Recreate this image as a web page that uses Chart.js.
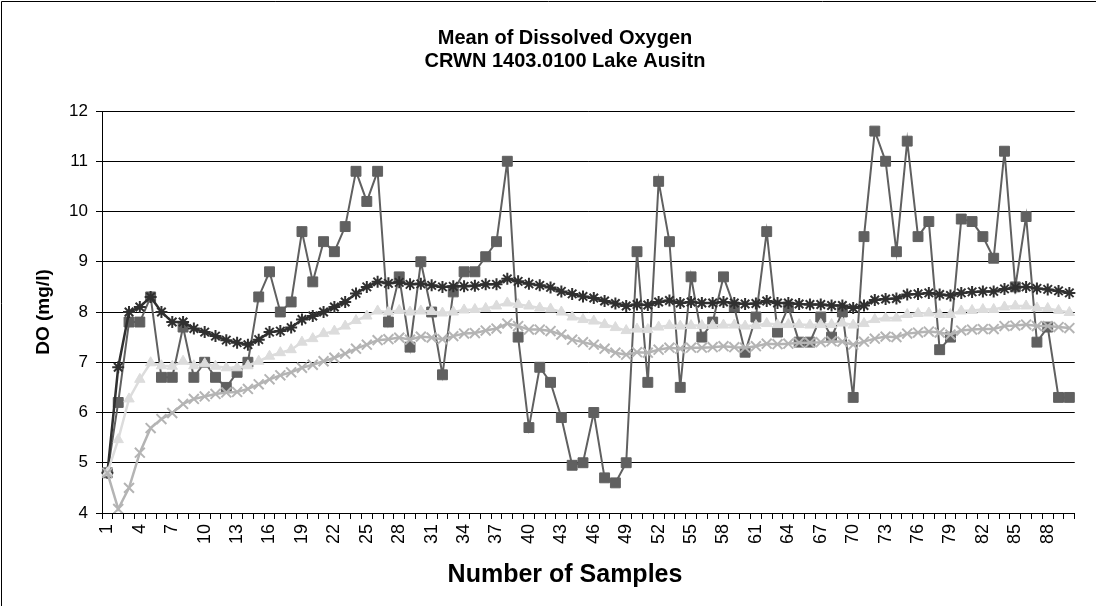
<!DOCTYPE html>
<html>
<head>
<meta charset="utf-8">
<title>Mean of Dissolved Oxygen</title>
<script src="https://cdn.jsdelivr.net/npm/chart.js@4.4.1/dist/chart.umd.min.js"></script>
<style>
  html, body { margin: 0; padding: 0; background: #fff; }
  #wrap { width: 1096px; height: 606px; }
</style>
</head>
<body>
<div id="wrap"><canvas id="myChart" width="1096" height="606"></canvas></div>
<script>
// sample numbers on the x axis
const samples = [
  1, 2, 3, 4, 5, 6, 7, 8, 9, 10, 11, 12, 13, 14, 15, 16, 17, 18, 19, 20,
  21, 22, 23, 24, 25, 26, 27, 28, 29, 30, 31, 32, 33, 34, 35, 36, 37, 38, 39, 40,
  41, 42, 43, 44, 45, 46, 47, 48, 49, 50, 51, 52, 53, 54, 55, 56, 57, 58, 59, 60,
  61, 62, 63, 64, 65, 66, 67, 68, 69, 70, 71, 72, 73, 74, 75, 76, 77, 78, 79, 80,
  81, 82, 83, 84, 85, 86, 87, 88, 89, 90
];

// measured DO (squares)
const doValues = [
  4.8, 6.2, 7.8, 7.8, 8.3, 6.7, 6.7, 7.7, 6.7, 7.0,
  6.7, 6.5, 6.8, 7.0, 8.3, 8.8, 8.0, 8.2, 9.6, 8.6,
  9.4, 9.2, 9.7, 10.8, 10.2, 10.8, 7.8, 8.7, 7.3, 9.0,
  8.0, 6.75, 8.4, 8.8, 8.8, 9.1, 9.4, 11.0, 7.5, 5.7,
  6.9, 6.6, 5.9, 4.95, 5.0, 6.0, 4.7, 4.6, 5.0, 9.2,
  6.6, 10.6, 9.4, 6.5, 8.7, 7.5, 7.8, 8.7, 8.1, 7.2,
  7.9, 9.6, 7.6, 8.1, 7.4, 7.4, 7.9, 7.5, 8.0, 6.3,
  9.5, 11.6, 11.0, 9.2, 11.4, 9.5, 9.8, 7.25, 7.5, 9.85,
  9.8, 9.5, 9.07, 11.2, 8.5, 9.9, 7.4, 7.7, 6.3, 6.3
];

// upper band (stars)
const upperValues = [
  4.8, 6.9, 8.0, 8.1, 8.3, 8.0, 7.8, 7.8, 7.67, 7.6,
  7.52, 7.44, 7.39, 7.35, 7.45, 7.6, 7.62, 7.69, 7.85, 7.92,
  8.0, 8.1, 8.2, 8.37, 8.5, 8.6, 8.57, 8.59, 8.55, 8.56,
  8.53, 8.5, 8.51, 8.51, 8.52, 8.55, 8.55, 8.66, 8.61, 8.56,
  8.53, 8.49, 8.41, 8.36, 8.31, 8.28, 8.22, 8.17, 8.12, 8.15,
  8.14, 8.2, 8.23, 8.18, 8.2, 8.18, 8.18, 8.2, 8.18, 8.16,
  8.17, 8.22, 8.18, 8.18, 8.16, 8.15, 8.15, 8.13, 8.13, 8.08,
  8.13, 8.24, 8.26, 8.27, 8.35, 8.36, 8.38, 8.35, 8.33, 8.38,
  8.4, 8.41, 8.41, 8.46, 8.49, 8.5, 8.47, 8.45, 8.42, 8.38
];

// running mean (triangles)
const meanValues = [
  4.8, 5.46, 6.27, 6.66, 6.99, 6.93, 6.92, 7.02, 6.93, 6.97,
  6.92, 6.89, 6.89, 6.93, 7.02, 7.12, 7.19, 7.25, 7.4, 7.47,
  7.57, 7.62, 7.72, 7.83, 7.92, 8.02, 8.0, 8.03, 8.0, 8.02,
  8.01, 7.98, 8.0, 8.04, 8.05, 8.07, 8.12, 8.18, 8.15, 8.12,
  8.08, 8.06, 8.0, 7.9, 7.85, 7.82, 7.75, 7.69, 7.63, 7.66,
  7.65, 7.7, 7.73, 7.72, 7.73, 7.73, 7.73, 7.74, 7.74, 7.72,
  7.73, 7.77, 7.75, 7.75, 7.75, 7.74, 7.75, 7.75, 7.78, 7.74,
  7.77, 7.85, 7.88, 7.88, 7.95, 7.97, 7.98, 7.95, 7.95, 8.02,
  8.03, 8.05, 8.05, 8.1, 8.12, 8.12, 8.08, 8.07, 8.03, 7.99
];

// lower band (x marks)
const lowerValues = [
  4.8, 4.08, 4.5, 5.2, 5.69, 5.87, 5.99, 6.17, 6.27, 6.32,
  6.37, 6.4, 6.41, 6.47, 6.56, 6.66, 6.74, 6.8, 6.89, 6.95,
  7.02, 7.09, 7.17, 7.27, 7.35, 7.44, 7.46, 7.49, 7.45, 7.51,
  7.49, 7.46, 7.52, 7.57, 7.58, 7.63, 7.67, 7.77, 7.72, 7.65,
  7.65, 7.62, 7.55, 7.45, 7.4, 7.35, 7.27, 7.19, 7.15, 7.2,
  7.19, 7.25, 7.29, 7.27, 7.29, 7.29, 7.3, 7.32, 7.3, 7.29,
  7.32, 7.37, 7.36, 7.37, 7.39, 7.39, 7.4, 7.42, 7.41, 7.35,
  7.41, 7.47, 7.51, 7.5, 7.57, 7.59, 7.61, 7.59, 7.55, 7.63,
  7.65, 7.66, 7.66, 7.72, 7.73, 7.75, 7.72, 7.72, 7.7, 7.68
];

const yTicks = [4, 5, 6, 7, 8, 9, 10, 11, 12];
const labelStep = 3;

const titleLines = ["Mean of Dissolved Oxygen", "CRWN 1403.0100 Lake Ausitn"];
const xTitle = "Number of Samples";
const yTitle = "DO (mg/l)";

const FONT = "'Liberation Sans', Arial, sans-serif";
Chart.defaults.font.family = FONT;
Chart.defaults.color = "#000";

// titles + outer frame drawn by hand so they sit where the original has them
const extras = {
  id: "extras",
  beforeDraw(chart) {
    const c = chart.ctx;
    c.save();
    c.fillStyle = "#fff";
    c.fillRect(0, 0, chart.width, chart.height);
    c.restore();
  },
  afterDraw(chart) {
    const c = chart.ctx;
    c.save();
    c.strokeStyle = "#000";
    c.lineWidth = 1;
    c.beginPath();
    c.moveTo(1.5, 606);
    c.lineTo(1.5, 1.5);
    c.lineTo(1096, 1.5);
    c.stroke();

    c.fillStyle = "#000";
    c.textAlign = "center";
    c.textBaseline = "middle";
    c.font = "bold 20px " + FONT;
    c.fillText(titleLines[0], 565, 38);
    c.fillText(titleLines[1], 565, 61);

    c.font = "bold 25px " + FONT;
    c.fillText(xTitle, 565, 575);
    c.restore();
  }
};

let ctx = document.getElementById("myChart").getContext("2d");
let myGraph = new Chart(ctx, {
  type: "line",
  data: {
    labels: samples,
    datasets: [
      {
        label: "DO",
        data: doValues,
        borderColor: "#606060",
        backgroundColor: "#606060",
        borderWidth: 2,
        pointStyle: "rect",
        pointRadius: 7,
        pointBorderWidth: 1,
        order: 4,
      },
      {
        label: "Upper",
        data: upperValues,
        borderColor: "#303030",
        backgroundColor: "#303030",
        borderWidth: 2.5,
        pointStyle: "star",
        pointRadius: 6,
        pointBorderWidth: 2,
        order: 3,
      },
      {
        label: "Mean",
        data: meanValues,
        borderColor: "#dcdcdc",
        backgroundColor: "#dcdcdc",
        borderWidth: 2.5,
        pointStyle: "triangle",
        pointRadius: 6,
        pointBorderWidth: 1,
        order: 2,
      },
      {
        label: "Lower",
        data: lowerValues,
        borderColor: "#b4b4b4",
        backgroundColor: "#b4b4b4",
        borderWidth: 2.5,
        pointStyle: "crossRot",
        pointRadius: 7,
        pointBorderWidth: 2,
        order: 1,
      },
    ],
  },
  options: {
    responsive: false,
    animation: false,
    events: [],
    layout: { padding: { left: 0, right: 8, top: 111, bottom: 0 } },
    plugins: {
      legend: { display: false },
      title: { display: false },
      tooltip: { enabled: false },
    },
    elements: { line: { tension: 0 } },
    scales: {
      x: {
        type: "category",
        offset: true,
        grid: {
          display: true,
          offset: true,
          drawOnChartArea: false,
          drawTicks: true,
          tickLength: 6,
          color: "#000",
        },
        border: { display: true, color: "#000", width: 1 },
        ticks: {
          autoSkip: false,
          maxRotation: 90,
          minRotation: 90,
          padding: 5,
          font: { size: 18 },
          color: "#000",
          callback: (v, i) => (i % labelStep === 0 ? samples[i] : ""),
        },
        afterFit: (scale) => {
          scale.height = 93;
        },
      },
      y: {
        min: 4,
        max: 12,
        afterBuildTicks: (scale) => {
          scale.ticks = yTicks.map((v) => ({ value: v }));
        },
        grid: {
          color: "#000",
          lineWidth: 1,
          drawTicks: true,
          tickLength: 6,
        },
        border: { display: true, color: "#000", width: 1 },
        ticks: {
          padding: 8,
          font: { size: 17 },
          color: "#000",
        },
        title: {
          display: true,
          text: yTitle,
          font: { size: 19, weight: "bold" },
          color: "#000",
          padding: { top: 32, bottom: 0 },
        },
        afterFit: (scale) => {
          scale.width = 102;
        },
      },
    },
  },
  plugins: [extras],
});
</script>
</body>
</html>
